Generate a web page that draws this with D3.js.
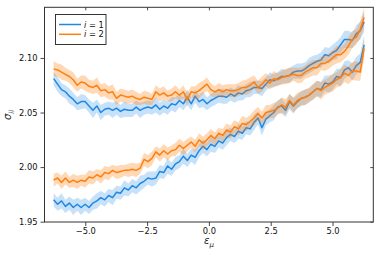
<!DOCTYPE html>
<html>
<head>
<meta charset="utf-8">
<script src="https://cdn.jsdelivr.net/npm/d3@7"></script>
<style>
  body { margin: 0; background: #fff; }
  svg { font-family: "DejaVu Sans", sans-serif; }
</style>
</head>
<body>
<svg width="381" height="254"></svg>
<script>
// sample grid runs from -2pi to 2pi
var nPts = 80,
    epsMin = -6.28, epsMax = 6.28;

// i = 1 (blue), upper and lower branch
var blueUpper = [2.081, 2.076, 2.071, 2.069, 2.065, 2.062, 2.058, 2.060, 2.060, 2.056,
  2.052, 2.056, 2.050, 2.053, 2.054, 2.052, 2.054, 2.051, 2.053, 2.052,
  2.052, 2.055, 2.052, 2.054, 2.055, 2.054, 2.057, 2.053, 2.056, 2.054,
  2.058, 2.057, 2.061, 2.058, 2.064, 2.058, 2.065, 2.060, 2.062, 2.058,
  2.061, 2.063, 2.065, 2.065, 2.064, 2.067, 2.065, 2.068, 2.067, 2.070,
  2.071, 2.073, 2.073, 2.072, 2.076, 2.080, 2.079, 2.081, 2.083, 2.083,
  2.084, 2.087, 2.088, 2.088, 2.090, 2.093, 2.095, 2.097, 2.098, 2.103,
  2.102, 2.105, 2.107, 2.112, 2.117, 2.117, 2.116, 2.122, 2.125, 2.133];
var blueLower = [1.970, 1.966, 1.969, 1.964, 1.967, 1.963, 1.966, 1.963, 1.966, 1.963,
  1.967, 1.969, 1.972, 1.970, 1.974, 1.972, 1.977, 1.976, 1.981, 1.979,
  1.983, 1.981, 1.985, 1.987, 1.990, 1.989, 1.990, 1.996, 1.995, 2.001,
  1.998, 2.003, 2.005, 2.010, 2.006, 2.011, 2.009, 2.015, 2.019, 2.016,
  2.021, 2.019, 2.024, 2.022, 2.027, 2.030, 2.028, 2.033, 2.031, 2.036,
  2.035, 2.041, 2.045, 2.036, 2.044, 2.047, 2.050, 2.055, 2.056, 2.052,
  2.060, 2.056, 2.060, 2.063, 2.064, 2.066, 2.069, 2.072, 2.071, 2.077,
  2.076, 2.078, 2.083, 2.082, 2.089, 2.091, 2.087, 2.093, 2.096, 2.112];

// i = 2 (orange)
var orangeUpper = [2.090, 2.089, 2.087, 2.085, 2.083, 2.080, 2.075, 2.078, 2.077, 2.074,
  2.073, 2.075, 2.070, 2.071, 2.068, 2.069, 2.063, 2.066, 2.065, 2.064,
  2.065, 2.063, 2.062, 2.064, 2.063, 2.062, 2.069, 2.066, 2.068, 2.065,
  2.066, 2.069, 2.066, 2.069, 2.062, 2.069, 2.068, 2.070, 2.073, 2.076,
  2.071, 2.069, 2.071, 2.069, 2.071, 2.070, 2.070, 2.071, 2.073, 2.073,
  2.075, 2.078, 2.073, 2.076, 2.080, 2.077, 2.081, 2.080, 2.082, 2.083,
  2.084, 2.085, 2.084, 2.084, 2.087, 2.089, 2.091, 2.091, 2.095, 2.095,
  2.097, 2.100, 2.103, 2.103, 2.106, 2.111, 2.117, 2.119, 2.126, 2.137];
var orangeLower = [1.988, 1.990, 1.986, 1.990, 1.986, 1.988, 1.986, 1.988, 1.987, 1.991,
  1.990, 1.993, 1.991, 1.995, 1.994, 1.997, 1.995, 1.996, 1.997, 1.997,
  1.998, 1.997, 1.999, 2.007, 2.005, 2.008, 2.014, 2.011, 2.015, 2.012,
  2.015, 2.016, 2.020, 2.017, 2.020, 2.023, 2.019, 2.025, 2.022, 2.025,
  2.029, 2.026, 2.031, 2.029, 2.034, 2.032, 2.037, 2.035, 2.040, 2.039,
  2.042, 2.045, 2.049, 2.045, 2.050, 2.051, 2.052, 2.054, 2.057, 2.055,
  2.061, 2.057, 2.061, 2.063, 2.064, 2.066, 2.069, 2.072, 2.070, 2.073,
  2.075, 2.077, 2.080, 2.082, 2.086, 2.084, 2.088, 2.088, 2.087, 2.109];

// half widths of the shaded bands
var blueUpperErr = [0.006, 0.007, 0.006, 0.006, 0.007, 0.006, 0.006, 0.007, 0.006, 0.006,
  0.007, 0.006, 0.007, 0.006, 0.006, 0.007, 0.006, 0.006, 0.007, 0.006,
  0.006, 0.006, 0.007, 0.006, 0.006, 0.006, 0.007, 0.006, 0.006, 0.006,
  0.006, 0.007, 0.006, 0.006, 0.007, 0.006, 0.006, 0.006, 0.007, 0.006,
  0.006, 0.006, 0.006, 0.007, 0.006, 0.006, 0.006, 0.007, 0.006, 0.006,
  0.007, 0.006, 0.006, 0.007, 0.006, 0.007, 0.006, 0.006, 0.007, 0.006,
  0.007, 0.006, 0.007, 0.007, 0.006, 0.007, 0.007, 0.006, 0.007, 0.007,
  0.007, 0.007, 0.008, 0.007, 0.008, 0.008, 0.007, 0.008, 0.008, 0.009];
var blueLowerErr = [0.006, 0.006, 0.007, 0.006, 0.006, 0.007, 0.006, 0.007, 0.006, 0.006,
  0.006, 0.007, 0.006, 0.006, 0.006, 0.007, 0.006, 0.006, 0.007, 0.006,
  0.006, 0.006, 0.007, 0.006, 0.006, 0.007, 0.006, 0.006, 0.006, 0.007,
  0.006, 0.006, 0.006, 0.007, 0.006, 0.006, 0.007, 0.006, 0.006, 0.006,
  0.007, 0.006, 0.006, 0.006, 0.007, 0.006, 0.006, 0.007, 0.006, 0.006,
  0.006, 0.007, 0.006, 0.007, 0.006, 0.006, 0.007, 0.006, 0.007, 0.006,
  0.007, 0.007, 0.006, 0.007, 0.007, 0.006, 0.007, 0.007, 0.007, 0.007,
  0.008, 0.007, 0.007, 0.008, 0.008, 0.007, 0.008, 0.008, 0.008, 0.009];
var orangeUpperErr = [0.007, 0.006, 0.007, 0.006, 0.006, 0.007, 0.006, 0.006, 0.007, 0.006,
  0.006, 0.007, 0.006, 0.006, 0.006, 0.007, 0.006, 0.006, 0.006, 0.006,
  0.006, 0.006, 0.005, 0.006, 0.006, 0.005, 0.006, 0.006, 0.006, 0.005,
  0.006, 0.006, 0.005, 0.006, 0.006, 0.005, 0.006, 0.007, 0.006, 0.006,
  0.006, 0.005, 0.006, 0.006, 0.005, 0.006, 0.006, 0.006, 0.006, 0.007,
  0.007, 0.006, 0.006, 0.007, 0.006, 0.006, 0.007, 0.006, 0.006, 0.007,
  0.007, 0.006, 0.007, 0.007, 0.006, 0.007, 0.007, 0.007, 0.006, 0.007,
  0.007, 0.007, 0.008, 0.007, 0.007, 0.008, 0.008, 0.007, 0.008, 0.009];
var orangeLowerErr = [0.006, 0.005, 0.006, 0.006, 0.005, 0.006, 0.006, 0.005, 0.006, 0.006,
  0.006, 0.005, 0.006, 0.006, 0.006, 0.005, 0.006, 0.006, 0.005, 0.006,
  0.006, 0.006, 0.005, 0.006, 0.006, 0.006, 0.005, 0.006, 0.006, 0.006,
  0.005, 0.006, 0.006, 0.006, 0.006, 0.005, 0.006, 0.006, 0.006, 0.006,
  0.006, 0.006, 0.005, 0.006, 0.006, 0.006, 0.006, 0.006, 0.007, 0.006,
  0.006, 0.007, 0.006, 0.006, 0.007, 0.006, 0.007, 0.006, 0.007, 0.007,
  0.006, 0.007, 0.007, 0.006, 0.007, 0.007, 0.007, 0.007, 0.008, 0.007,
  0.007, 0.008, 0.007, 0.008, 0.008, 0.008, 0.008, 0.009, 0.008, 0.009];

var xTicks = [-5.0, -2.5, 0.0, 2.5, 5.0],
    yTicks = [1.95, 2.00, 2.05, 2.10];

var legendLabels = ["1", "2"];
var colors = ["#1e88e5", "#ff7f0e"];

var svg = d3.select("svg");
var mLeft = 44.5, mRight = 373.3, mTop = 7.3, mBottom = 222;

var eps = d3.range(nPts).map(function(i) { return epsMin + i * (epsMax - epsMin) / (nPts - 1); });

var x = d3.scaleLinear().domain([-6.65, 6.65]).range([mLeft, mRight]);
var y = d3.scaleLinear().domain([1.9497, 2.1464]).range([mBottom, mTop]);

var series = [
  { mean: blueUpper, err: blueUpperErr, c: 0 },
  { mean: blueLower, err: blueLowerErr, c: 0 },
  { mean: orangeUpper, err: orangeUpperErr, c: 1 },
  { mean: orangeLower, err: orangeLowerErr, c: 1 }
];

var area = d3.area()
    .x(function(d) { return x(d[0]); })
    .y0(function(d) { return y(d[1] - d[2]); })
    .y1(function(d) { return y(d[1] + d[2]); });

var line = d3.line()
    .x(function(d) { return x(d[0]); })
    .y(function(d) { return y(d[1]); });

var plot = svg.append("g");

// blue first (bands then lines), orange on top
[0, 1].forEach(function(c) {
  var ss = series.filter(function(s) { return s.c === c; });
  ss.forEach(function(s) {
    var pts = eps.map(function(e, i) { return [e, s.mean[i], s.err[i]]; });
    plot.append("path").attr("d", area(pts))
      .attr("fill", colors[c]).attr("fill-opacity", c ? 0.3 : 0.25);
  });
  ss.forEach(function(s) {
    var pts = eps.map(function(e, i) { return [e, s.mean[i], s.err[i]]; });
    plot.append("path").attr("d", line(pts))
      .attr("fill", "none").attr("stroke", colors[c]).attr("stroke-width", 1.5)
      .attr("stroke-linejoin", "round");
  });
});

// axes
var fmt = function(d) { return d3.format(".1f")(d).replace("-", "\u2212"); };
var xAxis = svg.append("g").attr("transform", "translate(0," + mBottom + ")")
    .call(d3.axisBottom(x).tickValues(xTicks).tickSize(4).tickPadding(2).tickFormat(fmt));
var yAxis = svg.append("g").attr("transform", "translate(" + mLeft + ",0)")
    .call(d3.axisLeft(y).tickValues(yTicks).tickSize(4).tickPadding(3).tickFormat(d3.format(".2f")));
var xTop = svg.append("g").attr("transform", "translate(0," + mTop + ")")
    .call(d3.axisBottom(x).tickValues(xTicks).tickSize(3).tickFormat(""));
var yRight = svg.append("g").attr("transform", "translate(" + mRight + ",0)")
    .call(d3.axisLeft(y).tickValues(yTicks).tickSize(3).tickFormat(""));

[xAxis, yAxis, xTop, yRight].forEach(function(g) {
  g.select(".domain").remove();
  g.selectAll("line").attr("stroke", "#333").attr("stroke-width", 0.9);
  g.selectAll("text").attr("font-size", "8.3px").attr("fill", "#111")
    .attr("font-family", "DejaVu Sans");
});

svg.append("rect").attr("x", mLeft).attr("y", mTop)
  .attr("width", mRight - mLeft).attr("height", mBottom - mTop)
  .attr("fill", "none").attr("stroke", "#333").attr("stroke-width", 1);

// axis labels
var xl = svg.append("text").attr("x", 209).attr("y", 244)
  .attr("text-anchor", "middle").attr("font-size", "10px").attr("fill", "#222");
xl.append("tspan").attr("font-style", "italic").text("\u03b5");
xl.append("tspan").attr("font-style", "italic").attr("font-size", "7px").attr("dy", 2.5).text("\u03bc");

var yl = svg.append("text").attr("transform", "translate(11,115) rotate(-90)")
  .attr("text-anchor", "middle").attr("font-size", "10px").attr("fill", "#222");
yl.append("tspan").attr("font-style", "italic").text("\u03c3");
yl.append("tspan").attr("font-style", "italic").attr("font-size", "7px").attr("dy", 2.5).text("ii");

// legend
var lg = svg.append("g");
lg.append("rect").attr("x", 55.5).attr("y", 14.5).attr("width", 50.5).attr("height", 30)
  .attr("fill", "#fff").attr("stroke", "#222").attr("stroke-width", 0.9);
legendLabels.forEach(function(lab, k) {
  var yy = 24.5 + k * 9.8;
  lg.append("line").attr("x1", 59).attr("x2", 81).attr("y1", yy).attr("y2", yy)
    .attr("stroke", colors[k]).attr("stroke-width", 1.5);
  var t = lg.append("text").attr("x", 84).attr("y", yy + 3).attr("font-size", "8.3px").attr("fill", "#111");
  t.append("tspan").attr("font-style", "italic").text("i");
  t.append("tspan").text(" = " + lab);
});
</script>
</body>
</html>
